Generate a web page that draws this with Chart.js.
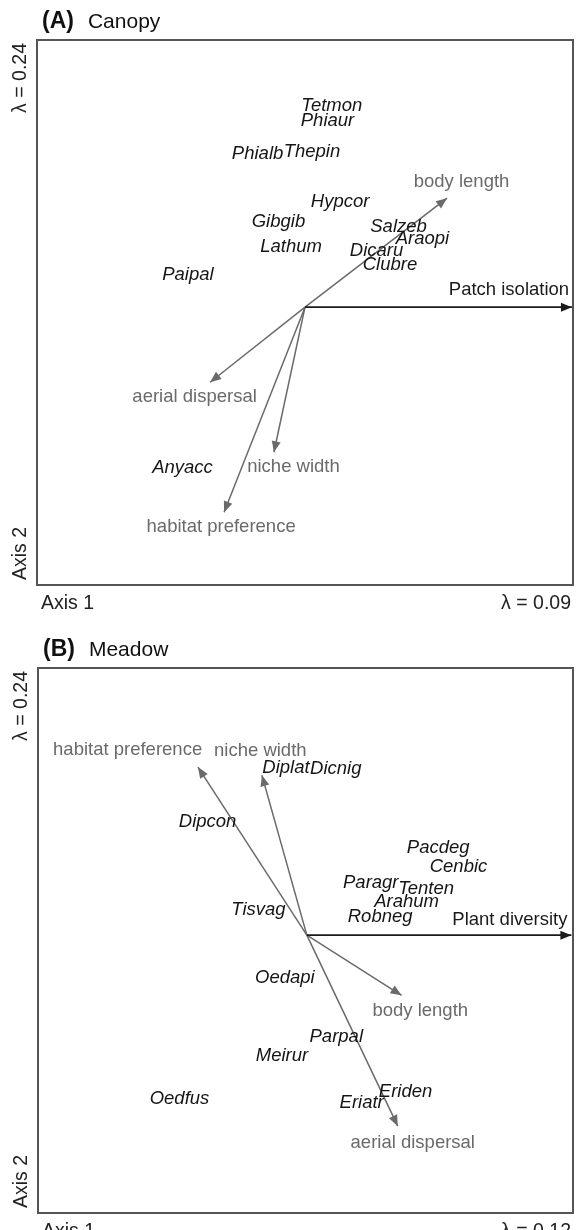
<!DOCTYPE html>
<html>
<head>
<meta charset="utf-8">
<script src="https://cdn.jsdelivr.net/npm/chart.js@4.4.1/dist/chart.umd.min.js"></script>
<style>
  body { margin: 0; background: #fff; }
  .panel { width: 583px; height: 615px; }
</style>
</head>
<body>
<div class="panel"><canvas id="canopyChart" width="583" height="615"></canvas></div>
<div class="panel"><canvas id="meadowChart" width="583" height="615"></canvas></div>
<script>
// (A) Canopy - species scores
const canopySpecies = ["Tetmon", "Phiaur", "Phialb", "Thepin", "Hypcor", "Gibgib", "Lathum",
    "Salzeb", "Araopi", "Dicaru", "Clubre", "Paipal", "Anyacc"];
const canopySpeciesX = [0.10, 0.084, -0.177, 0.026, 0.131, -0.099, -0.052, 0.349, 0.438, 0.267, 0.317, -0.437, -0.457];
const canopySpeciesY = [0.753, 0.697, 0.573, 0.581, 0.393, 0.318, 0.225, 0.300, 0.255, 0.210, 0.157, 0.120, -0.603];

// (A) Canopy - arrows (first one is the environmental variable)
const canopyArrows = ["Patch isolation", "body length", "aerial dispersal", "niche width", "habitat preference"];
const canopyArrowX = [0.996, 0.530, -0.354, -0.116, -0.302];
const canopyArrowY = [0, 0.408, -0.281, -0.543, -0.768];
const canopyLabelX = [0.761, 0.584, -0.412, -0.043, -0.313];
const canopyLabelY = [0.064, 0.468, -0.337, -0.599, -0.824];
const canopyLambda = ["λ = 0.09", "λ = 0.24"];

// (B) Meadow - species scores
const meadowSpecies = ["Diplat", "Dicnig", "Dipcon", "Pacdeg", "Cenbic", "Paragr", "Tenten", "Arahum",
    "Robneg", "Tisvag", "Oedapi", "Parpal", "Meirur", "Oedfus", "Eriden", "Eriatr"];
const meadowSpeciesX = [-0.078, 0.108, -0.371, 0.491, 0.567, 0.239, 0.446, 0.373, 0.274, -0.181, -0.082, 0.110, -0.093, -0.476, 0.369, 0.205];
const meadowSpeciesY = [0.625, 0.622, 0.423, 0.326, 0.255, 0.195, 0.172, 0.124, 0.067, 0.094, -0.161, -0.382, -0.453, -0.614, -0.588, -0.629];

// (B) Meadow - arrows
const meadowArrows = ["Plant diversity", "habitat preference", "niche width", "body length", "aerial dispersal"];
const meadowArrowX = [0.989, -0.407, -0.168, 0.354, 0.340];
const meadowArrowY = [0, 0.629, 0.599, -0.225, -0.715];
const meadowLabelX = [0.759, -0.670, -0.174, 0.424, 0.396];
const meadowLabelY = [0.056, 0.693, 0.689, -0.285, -0.779];
const meadowLambda = ["λ = 0.12", "λ = 0.24"];

const FONT = '"Liberation Sans", Arial, sans-serif';
const ENV_COLOR = "#1a1a1a";
const TRAIT_COLOR = "#6a6a6a";

// draws arrowheads, labels, frame and panel texts
const ordinationPlugin = {
    id: "ordination",
    afterDatasetsDraw(chart, args, opts) {
        const ctx = chart.ctx;
        const xs = chart.scales.x;
        const ys = chart.scales.y;
        const area = chart.chartArea;
        const x0 = xs.getPixelForValue(0);
        const y0 = ys.getPixelForValue(0);

        ctx.save();
        ctx.textAlign = "center";
        ctx.textBaseline = "middle";

        // arrowheads
        opts.arrowX.forEach((ax, i) => {
            const x1 = xs.getPixelForValue(ax);
            const y1 = ys.getPixelForValue(opts.arrowY[i]);
            const ang = Math.atan2(y1 - y0, x1 - x0);
            const len = 11, half = 4.5;
            ctx.fillStyle = i === 0 ? ENV_COLOR : TRAIT_COLOR;
            ctx.beginPath();
            ctx.moveTo(x1, y1);
            ctx.lineTo(x1 - len * Math.cos(ang) + half * Math.sin(ang), y1 - len * Math.sin(ang) - half * Math.cos(ang));
            ctx.lineTo(x1 - len * Math.cos(ang) - half * Math.sin(ang), y1 - len * Math.sin(ang) + half * Math.cos(ang));
            ctx.closePath();
            ctx.fill();
        });

        // arrow labels
        ctx.font = "18.5px " + FONT;
        opts.arrows.forEach((name, i) => {
            ctx.fillStyle = i === 0 ? ENV_COLOR : TRAIT_COLOR;
            ctx.fillText(name, xs.getPixelForValue(opts.labelX[i]), ys.getPixelForValue(opts.labelY[i]));
        });

        // species labels
        ctx.font = "italic 18.5px " + FONT;
        ctx.fillStyle = "#151515";
        opts.species.forEach((name, i) => {
            ctx.fillText(name, xs.getPixelForValue(opts.speciesX[i]), ys.getPixelForValue(opts.speciesY[i]));
        });

        // frame
        ctx.strokeStyle = "#555";
        ctx.lineWidth = 2;
        ctx.strokeRect(area.left, area.top, area.right - area.left, area.bottom - area.top);

        // panel title
        ctx.textAlign = "left";
        ctx.fillStyle = "#111";
        ctx.font = "bold 23px " + FONT;
        ctx.fillText(opts.letter, area.left + 5, area.top - 18);
        const w = ctx.measureText(opts.letter).width;
        ctx.font = "21px " + FONT;
        ctx.fillText(opts.title, area.left + 5 + w + 14, area.top - 18);

        // axis texts
        ctx.font = "19.5px " + FONT;
        ctx.fillStyle = "#222";
        ctx.fillText("Axis 1", area.left + 4, area.bottom + 19);
        ctx.textAlign = "right";
        ctx.fillText(opts.lambda[0], area.right - 2, area.bottom + 19);

        ctx.save();
        ctx.translate(area.left - 16, area.top + 3);
        ctx.rotate(-Math.PI / 2);
        ctx.textAlign = "right";
        ctx.fillText(opts.lambda[1], 0, 0);
        ctx.restore();

        ctx.save();
        ctx.translate(area.left - 16, area.bottom - 5);
        ctx.rotate(-Math.PI / 2);
        ctx.textAlign = "left";
        ctx.fillText("Axis 2", 0, 0);
        ctx.restore();

        ctx.restore();
    }
};

function makeChart(id, cfg) {
    const datasets = [{
        type: "scatter",
        data: cfg.speciesX.map((x, i) => ({ x: x, y: cfg.speciesY[i] })),
        pointRadius: 0
    }];
    cfg.arrowX.forEach((ax, i) => {
        datasets.push({
            type: "line",
            data: [{ x: 0, y: 0 }, { x: ax, y: cfg.arrowY[i] }],
            borderColor: i === 0 ? ENV_COLOR : TRAIT_COLOR,
            borderWidth: i === 0 ? 1.8 : 1.5,
            pointRadius: 0,
            fill: false
        });
    });

    return new Chart(document.getElementById(id).getContext("2d"), {
        type: "scatter",
        data: { datasets: datasets },
        options: {
            responsive: false,
            animation: false,
            layout: { padding: cfg.padding },
            scales: {
                x: { type: "linear", min: cfg.xRange[0], max: cfg.xRange[1], display: false },
                y: { type: "linear", min: -1.04, max: 1.0, display: false }
            },
            plugins: {
                legend: { display: false },
                tooltip: { enabled: false },
                ordination: cfg
            }
        },
        plugins: [ordinationPlugin]
    });
}

makeChart("canopyChart", {
    letter: "(A)", title: "Canopy",
    species: canopySpecies, speciesX: canopySpeciesX, speciesY: canopySpeciesY,
    arrows: canopyArrows, arrowX: canopyArrowX, arrowY: canopyArrowY,
    labelX: canopyLabelX, labelY: canopyLabelY, lambda: canopyLambda,
    xRange: [-1, 1],
    padding: { left: 37, top: 40, right: 10, bottom: 30 }
});

makeChart("meadowChart", {
    letter: "(B)", title: "Meadow",
    species: meadowSpecies, speciesX: meadowSpeciesX, speciesY: meadowSpeciesY,
    arrows: meadowArrows, arrowX: meadowArrowX, arrowY: meadowArrowY,
    labelX: meadowLabelX, labelY: meadowLabelY, lambda: meadowLambda,
    xRange: [-1.005, 0.995],
    padding: { left: 38, top: 53, right: 10, bottom: 17 }
});
</script>
</body>
</html>
